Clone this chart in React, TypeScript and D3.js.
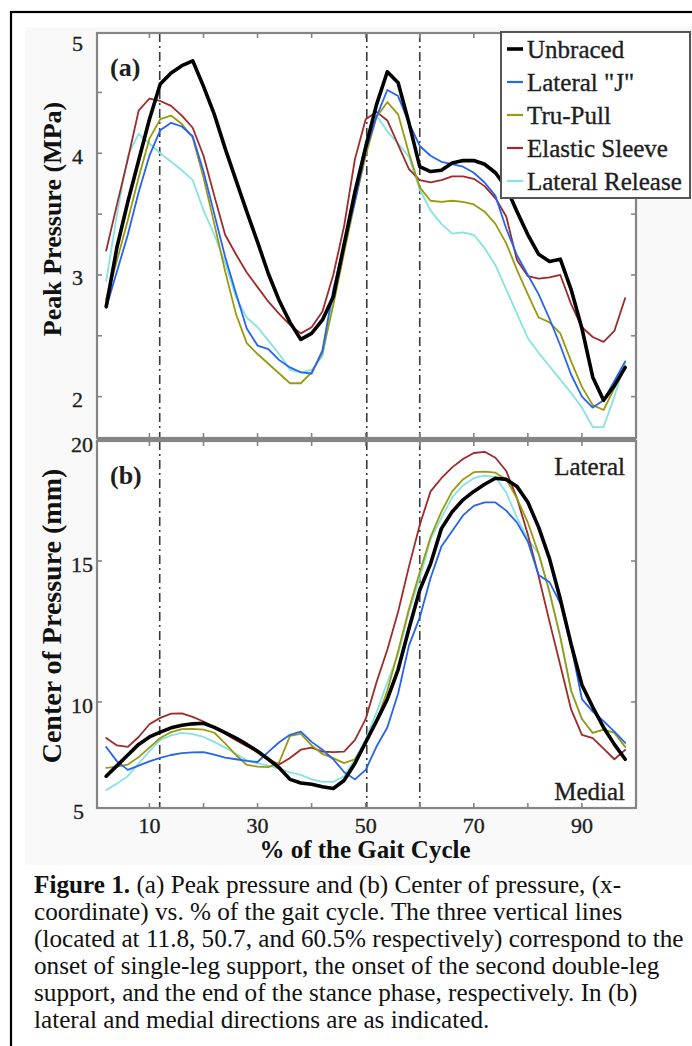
import React from "react";
import * as d3 from "d3";

// ---------- data ----------
const pct = [2, 4, 6, 8, 10, 12, 14, 16, 18, 20, 22, 24, 26, 28, 30, 32, 34, 36, 38, 40, 42, 44, 46, 48, 50, 52, 54, 56, 58, 60, 62, 64, 66, 68, 70, 72, 74, 76, 78, 80, 82, 84, 86, 88, 90, 92, 94, 96, 98];

const seriesNames = ["Unbraced", 'Lateral "J"', "Tru-Pull", "Elastic Sleeve", "Lateral Release"];

// (a) Peak pressure (MPa)
const ppUnbraced = [2.74, 3.23, 3.60, 3.94, 4.28, 4.57, 4.66, 4.72, 4.76, 4.55, 4.32, 4.04, 3.78, 3.52, 3.27, 3.01, 2.79, 2.61, 2.47, 2.52, 2.63, 2.82, 3.25, 3.68, 4.05, 4.40, 4.67, 4.58, 4.25, 3.89, 3.85, 3.86, 3.92, 3.94, 3.94, 3.91, 3.84, 3.72, 3.52, 3.33, 3.17, 3.11, 3.13, 2.88, 2.56, 2.16, 1.97, 2.09, 2.24];
const ppLateralJ = [2.73, 3.03, 3.33, 3.68, 3.98, 4.19, 4.25, 4.22, 4.14, 3.85, 3.50, 3.15, 2.85, 2.56, 2.42, 2.39, 2.30, 2.24, 2.20, 2.19, 2.38, 2.88, 3.25, 3.60, 4.02, 4.30, 4.52, 4.47, 4.25, 4.06, 3.98, 3.93, 3.91, 3.89, 3.84, 3.76, 3.65, 3.38, 3.16, 3.00, 2.84, 2.64, 2.42, 2.18, 2.00, 1.91, 1.97, 2.13, 2.29];
const ppTruPull = [2.80, 3.12, 3.45, 3.80, 4.12, 4.28, 4.31, 4.24, 4.13, 3.80, 3.42, 3.03, 2.68, 2.44, 2.35, 2.27, 2.19, 2.11, 2.11, 2.20, 2.36, 2.75, 3.18, 3.60, 3.98, 4.30, 4.42, 4.32, 4.00, 3.72, 3.61, 3.60, 3.61, 3.60, 3.58, 3.52, 3.42, 3.26, 3.04, 2.84, 2.65, 2.61, 2.52, 2.29, 2.08, 1.93, 1.89, 2.07, 2.25];
const ppElastic = [3.20, 3.58, 3.95, 4.35, 4.45, 4.43, 4.39, 4.31, 4.21, 3.98, 3.65, 3.33, 3.17, 3.02, 2.90, 2.78, 2.68, 2.59, 2.52, 2.57, 2.70, 3.00, 3.40, 3.95, 4.28, 4.34, 4.27, 4.07, 3.87, 3.78, 3.76, 3.78, 3.81, 3.81, 3.79, 3.73, 3.63, 3.48, 3.12, 2.99, 2.97, 2.98, 3.00, 2.76, 2.57, 2.49, 2.45, 2.54, 2.81];
const ppRelease = [2.95, 3.50, 3.98, 4.16, 4.08, 4.00, 3.93, 3.86, 3.78, 3.53, 3.33, 3.10, 2.82, 2.65, 2.57, 2.46, 2.35, 2.22, 2.20, 2.22, 2.33, 2.80, 3.22, 3.65, 4.10, 4.31, 4.18, 4.08, 3.97, 3.70, 3.53, 3.42, 3.34, 3.35, 3.33, 3.22, 3.08, 2.88, 2.68, 2.48, 2.36, 2.25, 2.14, 2.03, 1.91, 1.75, 1.75, 2.00, 2.28];

// (b) Center of pressure (mm)
const copUnbraced = [6.50, 7.00, 7.50, 8.00, 8.35, 8.58, 8.78, 8.90, 8.97, 9.00, 8.80, 8.55, 8.30, 8.00, 7.68, 7.30, 6.90, 6.35, 6.18, 6.12, 6.00, 5.92, 6.30, 7.10, 8.10, 9.10, 10.10, 11.15, 12.60, 13.97, 14.90, 16.35, 17.05, 17.55, 17.90, 18.20, 18.45, 18.40, 18.10, 17.45, 16.40, 15.10, 13.65, 12.05, 10.60, 9.76, 8.80, 8.00, 7.30];
const copLateralJ = [7.88, 7.20, 6.80, 7.00, 7.20, 7.36, 7.50, 7.59, 7.62, 7.64, 7.52, 7.38, 7.30, 7.22, 7.17, 7.65, 8.10, 8.45, 8.60, 8.12, 7.75, 7.30, 6.70, 6.35, 6.80, 7.90, 8.80, 10.30, 12.00, 13.00, 14.40, 15.60, 16.25, 16.90, 17.30, 17.44, 17.44, 17.10, 16.60, 15.80, 14.50, 14.25, 13.50, 12.00, 10.10, 9.55, 9.10, 8.60, 8.07];
const copTruPull = [6.89, 6.95, 7.05, 7.40, 7.85, 8.30, 8.58, 8.72, 8.73, 8.70, 8.55, 8.05, 7.50, 7.03, 6.95, 6.93, 7.15, 8.40, 8.50, 7.95, 7.55, 7.35, 7.12, 7.30, 8.05, 9.10, 10.40, 11.80, 13.30, 14.60, 16.00, 17.05, 17.90, 18.40, 18.70, 18.72, 18.68, 18.40, 17.60, 16.60, 15.30, 13.90, 12.30, 10.40, 9.20, 8.54, 8.70, 8.55, 7.88];
const copElastic = [8.30, 7.95, 7.88, 8.35, 8.95, 9.25, 9.45, 9.46, 9.30, 9.08, 8.80, 8.50, 8.20, 7.92, 7.62, 7.30, 7.05, 7.36, 7.75, 7.85, 7.66, 7.64, 7.66, 8.20, 9.20, 10.70, 11.85, 13.20, 14.80, 16.50, 17.90, 18.45, 18.90, 19.25, 19.50, 19.55, 19.30, 18.75, 17.60, 16.10, 14.45, 12.85, 11.30, 9.65, 8.45, 8.30, 7.80, 7.30, 7.74];
const copRelease = [5.85, 6.15, 6.50, 7.10, 7.68, 8.21, 8.42, 8.54, 8.48, 8.35, 8.12, 7.85, 7.55, 7.25, 7.10, 7.00, 6.85, 6.68, 6.56, 6.35, 6.23, 6.23, 6.50, 7.30, 8.25, 9.50, 10.70, 11.70, 13.20, 14.40, 15.90, 16.80, 17.65, 18.15, 18.45, 18.56, 18.50, 17.85, 16.80, 15.90, 15.30, 13.90, 12.30, 10.40, 9.20, 8.54, 8.70, 8.55, 7.88];

const eventLines = [11.9, 50.2, 60.0];

const xTicks = [10, 20, 30, 40, 50, 60, 70, 80, 90];
const xLabels = [10, 30, 50, 70, 90];
const topTicks = [2, 2.5, 3, 3.5, 4, 4.5];
const topLabels = [2, 3, 4, 5];
const botTicks = [10, 15];
const botLabels = [5, 10, 15, 20];

const captionLines = [
  "(a) Peak pressure and (b) Center of pressure, (x-",
  "coordinate) vs. % of the gait cycle. The three vertical lines",
  "(located at 11.8, 50.7, and 60.5% respectively) correspond to the",
  "onset of single-leg support, the onset of the second double-leg",
  "support, and the end of the stance phase, respectively. In (b)",
  "lateral and medial directions are as indicated.",
];

// ---------- styles ----------
const colors = ["#000000", "#2563f0", "#9a9a10", "#9e2a2a", "#86e3df"];
const widths = [3.6, 1.8, 1.8, 1.8, 1.8];
const drawOrder = [4, 3, 2, 1, 0];
const FONT = "'Liberation Serif', 'Times New Roman', serif";
const AXIS = "#858585";
const TXT = "#1e1e1e";

export default function App() {
  const W = 692, H = 1046;
  const left = 97, right = 636;
  const topA = 33, botA = 438, topB = 441, botB = 808;

  const x = d3.scaleLinear().domain([0.3, 100]).range([left, right]);
  const yA = d3.scaleLinear().domain([1.66, 5]).range([botA, 31.6]);
  const yB = d3.scaleLinear().domain([5, 10, 15, 20]).range([botB, 702, 561, topB]);

  const ppSeries = [ppUnbraced, ppLateralJ, ppTruPull, ppElastic, ppRelease];
  const copSeries = [copUnbraced, copLateralJ, copTruPull, copElastic, copRelease];

  const lineA = d3.line<number>().x((_, i) => x(pct[i])).y((d) => yA(d));
  const lineB = d3.line<number>().x((_, i) => x(pct[i])).y((d) => yB(d));

  const tl = 5;

  const legendX = 501, legendY = 32, legendW = 189, legendH = 166;
  const legendRow = d3.scaleLinear().domain([0, 4]).range([49, 181]);
  const heavy = { stroke: TXT, strokeWidth: 0.35 };

  return (
    <svg width={W} height={H} style={{ position: "absolute", left: 0, top: 0, background: "#fff" }} fontFamily={FONT}>
      <rect x={0} y={0} width={W} height={H} fill="#fff" />
      <rect x={25} y={27} width={W - 25} height={838} fill="#f9f9f9" />
      {/* outer figure frame */}
      <rect x={11} y={12} width={W + 10} height={H + 10} fill="none" stroke="#000" strokeWidth={2.2} />

      {/* plot backgrounds */}
      <rect x={left} y={topA} width={right - left} height={botA - topA} fill="#fff" />
      <rect x={left} y={topB} width={right - left} height={botB - topB} fill="#fff" />

      <defs>
        <clipPath id="clipA"><rect x={left} y={topA} width={right - left} height={botA - topA} /></clipPath>
        <clipPath id="clipB"><rect x={left} y={topB} width={right - left} height={botB - topB} /></clipPath>
      </defs>

      {/* event lines */}
      {eventLines.map((v, i) => (
        <g key={"ev" + i}>
          <line x1={x(v)} x2={x(v)} y1={topA} y2={botA} stroke="#3a3a3a" strokeWidth={1.6} strokeDasharray="9,4,2,4" />
          <line x1={x(v)} x2={x(v)} y1={topB} y2={botB} stroke="#3a3a3a" strokeWidth={1.6} strokeDasharray="9,4,2,4" />
        </g>
      ))}

      {/* series */}
      <g clipPath="url(#clipA)">
        {drawOrder.map((k) => (
          <path key={"a" + k} d={lineA(ppSeries[k]) || ""} fill="none" stroke={colors[k]} strokeWidth={widths[k]} strokeLinejoin="round" strokeLinecap="round" />
        ))}
      </g>
      <g clipPath="url(#clipB)">
        {drawOrder.map((k) => (
          <path key={"b" + k} d={lineB(copSeries[k]) || ""} fill="none" stroke={colors[k]} strokeWidth={widths[k]} strokeLinejoin="round" strokeLinecap="round" />
        ))}
      </g>

      {/* frames */}
      <rect x={left} y={topA} width={right - left} height={botA - topA} fill="none" stroke={AXIS} strokeWidth={2.2} />
      <rect x={left} y={topB} width={right - left} height={botB - topB} fill="none" stroke={AXIS} strokeWidth={2.2} />
      <line x1={left} x2={right} y1={(botA + topB) / 2} y2={(botA + topB) / 2} stroke={AXIS} strokeWidth={2} />

      {/* x ticks */}
      {xTicks.map((t) => (
        <g key={"xt" + t} stroke={AXIS} strokeWidth={1.6}>
          <line x1={x(t)} x2={x(t)} y1={topA} y2={topA + tl} />
          <line x1={x(t)} x2={x(t)} y1={botA} y2={botA - tl} />
          <line x1={x(t)} x2={x(t)} y1={topB} y2={topB + tl} />
          <line x1={x(t)} x2={x(t)} y1={botB} y2={botB - tl} />
        </g>
      ))}
      {xLabels.map((t) => (
        <text key={"xl" + t} x={x(t)} y={833} fontSize={22} textAnchor="middle" fill={TXT} {...heavy}>{t}</text>
      ))}

      {/* y ticks panel a */}
      {topTicks.map((t) => (
        <g key={"ya" + t} stroke={AXIS} strokeWidth={1.6}>
          <line x1={left} x2={left + tl} y1={yA(t)} y2={yA(t)} />
          <line x1={right} x2={right - tl} y1={yA(t)} y2={yA(t)} />
        </g>
      ))}
      {topLabels.map((t) => (
        <text key={"yal" + t} x={83} y={Math.max(yA(t) + 3, 43)} fontSize={22} textAnchor="end" dominantBaseline="central" fill={TXT} {...heavy}>{t}</text>
      ))}

      {/* y ticks panel b */}
      {botTicks.map((t) => (
        <g key={"yb" + t} stroke={AXIS} strokeWidth={1.6}>
          <line x1={left} x2={left + tl} y1={yB(t)} y2={yB(t)} />
          <line x1={right} x2={right - tl} y1={yB(t)} y2={yB(t)} />
        </g>
      ))}
      {botLabels.map((t) => (
        <text key={"ybl" + t} x={t < 10 ? 84 : 93} y={yB(t) + 3} fontSize={22} textAnchor="end" dominantBaseline="central" fill={TXT} {...heavy}>{t}</text>
      ))}

      {/* panel tags */}
      <text x={110} y={76} fontSize={26} fontWeight="bold" fill={TXT}>(a)</text>
      <text x={110} y={484} fontSize={26} fontWeight="bold" fill={TXT}>(b)</text>
      <text x={625} y={475} fontSize={25} textAnchor="end" fill={TXT} {...heavy}>Lateral</text>
      <text x={625} y={800} fontSize={25} textAnchor="end" fill={TXT} {...heavy}>Medial</text>

      {/* axis titles */}
      <text transform={`translate(61,219) rotate(-90)`} fontSize={26} fontWeight="bold" textAnchor="middle" fill="#111">Peak Pressure (MPa)</text>
      <text transform={`translate(61,616) rotate(-90)`} fontSize={28} fontWeight="bold" textAnchor="middle" fill="#111">Center of Pressure (mm)</text>
      <text x={365} y={858} fontSize={25} fontWeight="bold" textAnchor="middle" fill="#111">% of the Gait Cycle</text>

      {/* legend */}
      <rect x={legendX} y={legendY} width={legendW} height={legendH} fill="#fff" stroke="#555" strokeWidth={2} />
      {seriesNames.map((n, i) => (
        <g key={"lg" + i}>
          <line x1={507} x2={523} y1={legendRow(i)} y2={legendRow(i)} stroke={colors[i]} strokeWidth={i === 0 ? 3.6 : 2.2} />
          <text x={527} y={legendRow(i)} fontSize={25} dominantBaseline="central" fill={TXT} {...heavy}>{n}</text>
        </g>
      ))}

      {/* caption */}
      {captionLines.map((s, i) => (
        <text key={"cap" + i} x={34} y={893 + i * 27} fontSize={25.2} fill="#111">
          {i === 0 ? <tspan fontWeight="bold">Figure 1. </tspan> : null}
          {s}
        </text>
      ))}
    </svg>
  );
}
